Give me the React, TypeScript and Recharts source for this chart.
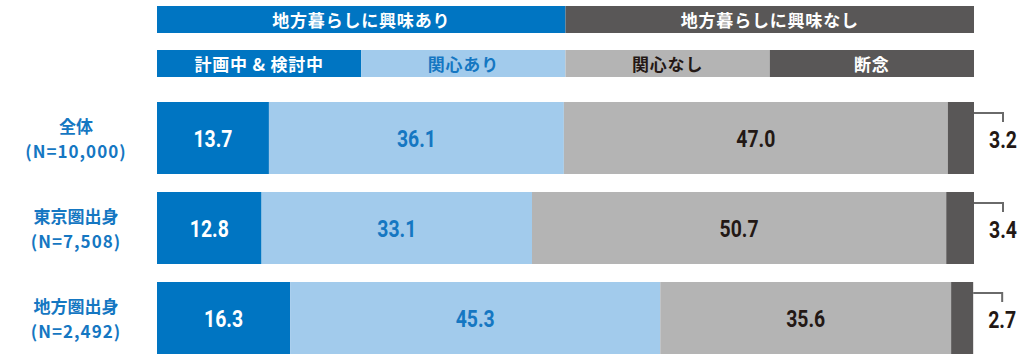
import React from "react";
import { BarChart, Bar, XAxis, YAxis, LabelList } from "recharts";

const categories = ["全体", "東京圏出身", "地方圏出身"];
const sampleSizes = ["(N=10,000)", "(N=7,508)", "(N=2,492)"];
const planning = [13.7, 12.8, 16.3];
const interested = [36.1, 33.1, 45.3];
const notInterested = [47.0, 50.7, 35.6];
const gaveUp = [3.2, 3.4, 2.7];

const headerTopLabels = ["地方暮らしに興味あり", "地方暮らしに興味なし"];
const headerTopShares = [50, 50];
const headerSubLabels = ["計画中 & 検討中", "関心あり", "関心なし", "断念"];
const headerSubShares = [25, 25, 25, 25];

const BLUE = "#0075C2";
const LIGHT = "#A2CBEC";
const GRAY = "#B4B4B4";
const DARK = "#595757";
const TEXT_DARK = "#231815";
const TEXT_BLUE = "#1577C2";
const WHITE = "#FFFFFF";

const NUM_FONT = "Roboto, 'Liberation Sans', sans-serif";
const JP_FONT = "'Noto Sans CJK JP', 'Noto Sans', sans-serif";

const rows = categories.map((name, i) => ({
  name,
  planning: planning[i],
  interested: interested[i],
  notInterested: notInterested[i],
  gaveUp: gaveUp[i],
}));

// condensed look: squeeze glyphs to a narrow advance
function narrowLength(s: string) {
  let w = 0;
  for (const ch of s) w += ch === "." ? 6 : 11;
  return w;
}

function NumText(p: { x: number; y: number; fill: string; text: string }) {
  return (
    <text
      x={p.x}
      y={p.y}
      fill={p.fill}
      textAnchor="middle"
      dominantBaseline="central"
      fontFamily={NUM_FONT}
      fontWeight={700}
      fontSize={24}
      textLength={narrowLength(p.text)}
      lengthAdjust="spacingAndGlyphs"
    >
      {p.text}
    </text>
  );
}

function inBarLabel(color: string) {
  return (props: any) => {
    const x = Number(props.x), y = Number(props.y), w = Number(props.width), h = Number(props.height);
    return <NumText x={x + w / 2} y={y + h / 2 + 1} fill={color} text={Number(props.value).toFixed(1)} />;
  };
}

const bracketLabel = (props: any) => {
  const x = Number(props.x), y = Number(props.y), w = Number(props.width);
  const r = x + w;
  const bx = r + 29;
  return (
    <g>
      <polyline
        points={`${r},${y + 11} ${bx},${y + 11} ${bx},${y + 20}`}
        fill="none"
        stroke="#6A6A6A"
        strokeWidth={2}
      />
      <NumText x={bx} y={y + 38} fill={TEXT_DARK} text={Number(props.value).toFixed(1)} />
    </g>
  );
};

const LeftTick = (props: any) => {
  const { y, index } = props;
  const i = typeof index === "number" ? index : categories.indexOf(props.payload?.value);
  return (
    <g>
      <text x={76} y={y - 13} textAnchor="middle" dominantBaseline="central" fill={TEXT_BLUE}
        fontFamily={JP_FONT} fontWeight={700} fontSize={17}>
        {categories[i]}
      </text>
      <text x={76} y={y + 12} textAnchor="middle" dominantBaseline="central" fill={TEXT_BLUE}
        fontFamily={JP_FONT} fontWeight={700} fontSize={17} letterSpacing={1}>
        {sampleSizes[i]}
      </text>
    </g>
  );
};

function headerLabel(text: string, color: string) {
  return (props: any) => {
    const x = Number(props.x), y = Number(props.y), w = Number(props.width), h = Number(props.height);
    return (
      <text x={x + w / 2} y={y + h / 2} fill={color} textAnchor="middle" dominantBaseline="central"
        fontFamily={JP_FONT} fontWeight={700} fontSize={17} letterSpacing={0.8}>
        {text}
      </text>
    );
  };
}

function HeaderBand(p: { labels: string[]; shares: number[]; colors: string[]; textColors: string[]; top: number }) {
  const row: any = { name: "h" };
  p.shares.forEach((s, i) => (row["s" + i] = s));
  return (
    <div style={{ position: "absolute", left: 0, top: p.top }}>
      <BarChart width={1036} height={30} data={[row]} layout="vertical"
        margin={{ top: 0, right: 62, bottom: 0, left: 157 }} barSize={30}>
        <XAxis type="number" domain={[0, 100]} hide />
        <YAxis type="category" dataKey="name" hide />
        {p.shares.map((_, i) => (
          <Bar key={i} dataKey={"s" + i} stackId="h" fill={p.colors[i]} isAnimationActive={false}>
            <LabelList dataKey={"s" + i} content={headerLabel(p.labels[i], p.textColors[i])} />
          </Bar>
        ))}
      </BarChart>
    </div>
  );
}

export default function App() {
  return (
    <div style={{ position: "absolute", left: 0, top: 0, width: 1036, height: 360, overflow: "hidden", background: "#fff" }}>
      <HeaderBand labels={headerTopLabels} shares={headerTopShares} colors={[BLUE, DARK]}
        textColors={[WHITE, WHITE]} top={4} />
      <HeaderBand labels={headerSubLabels} shares={headerSubShares} colors={[BLUE, LIGHT, GRAY, DARK]}
        textColors={[WHITE, TEXT_BLUE, TEXT_DARK, WHITE]} top={48} />
      <div style={{ position: "absolute", left: 0, top: 0 }}>
        <BarChart width={1036} height={363} data={rows} layout="vertical"
          margin={{ top: 93, right: 62, bottom: 0, left: 0 }} barSize={72}>
          <XAxis type="number" domain={[0, 100]} hide allowDataOverflow />
          <YAxis type="category" dataKey="name" width={157} axisLine={false} tickLine={false} tick={<LeftTick />} />
          <Bar dataKey="planning" stackId="a" fill={BLUE} isAnimationActive={false}>
            <LabelList dataKey="planning" content={inBarLabel(WHITE)} />
          </Bar>
          <Bar dataKey="interested" stackId="a" fill={LIGHT} isAnimationActive={false}>
            <LabelList dataKey="interested" content={inBarLabel(TEXT_BLUE)} />
          </Bar>
          <Bar dataKey="notInterested" stackId="a" fill={GRAY} isAnimationActive={false}>
            <LabelList dataKey="notInterested" content={inBarLabel(TEXT_DARK)} />
          </Bar>
          <Bar dataKey="gaveUp" stackId="a" fill={DARK} isAnimationActive={false}>
            <LabelList dataKey="gaveUp" content={bracketLabel} />
          </Bar>
        </BarChart>
      </div>
    </div>
  );
}
